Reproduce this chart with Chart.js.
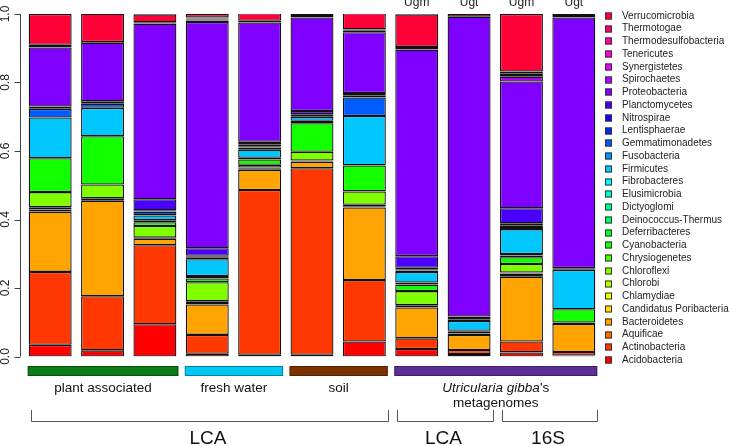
<!DOCTYPE html>
<html>
<head>
<meta charset="utf-8">
<script src="https://cdn.jsdelivr.net/npm/chart.js@4.4.1/dist/chart.umd.min.js"></script>
<style>
  html, body { margin: 0; padding: 0; background: #fff; }
</style>
</head>
<body>
<canvas id="chart" width="732" height="446"></canvas>
<script>
// bars, left to right (only the Utricularia ones carry a label on top)
const categories = ["", "", "", "", "", "", "", "Ugm", "Ugt", "Ugm", "Ugt"];

// phyla, bottom of the stack first
const phyla = [
  "Acidobacteria", "Actinobacteria", "Aquificae", "Bacteroidetes", "Candidatus Poribacteria",
  "Chlamydiae", "Chlorobi", "Chloroflexi", "Chrysiogenetes", "Cyanobacteria",
  "Deferribacteres", "Deinococcus-Thermus", "Dictyoglomi", "Elusimicrobia", "Fibrobacteres",
  "Firmicutes", "Fusobacteria", "Gemmatimonadetes", "Lentisphaerae", "Nitrospirae",
  "Planctomycetes", "Proteobacteria", "Spirochaetes", "Synergistetes", "Tenericutes",
  "Thermodesulfobacteria", "Thermotogae", "Verrucomicrobia"
];
const phylumColors = [
  "#FF0000", "#FF3700", "#FF6D00", "#FFA400", "#FFDB00", "#EDFF00", "#B6FF00", "#80FF00",
  "#49FF00", "#12FF00", "#00FF24", "#00FF5B", "#00FF92", "#00FFC8", "#00FFFF", "#00C8FF",
  "#0092FF", "#005BFF", "#0024FF", "#1200FF", "#4900FF", "#8000FF", "#B600FF", "#ED00FF",
  "#FF00DB", "#FF00A4", "#FF006D", "#FF0037"
];

// relative abundance per bar
const acidobacteria         = [0.034, 0.018, 0.094, 0.008, 0.005, 0.005, 0.044, 0.022, 0.007, 0.012, 0.003];
const actinobacteria        = [0.213, 0.158, 0.231, 0.055, 0.481, 0.545, 0.179, 0.031, 0.012, 0.032, 0.010];
const aquificae             = [0, 0, 0, 0, 0, 0, 0, 0, 0, 0, 0];
const bacteroidetes         = [0.176, 0.279, 0.019, 0.089, 0.059, 0.019, 0.212, 0.090, 0.044, 0.189, 0.082];
const candidatusPoribact    = [0, 0, 0, 0, 0.003, 0, 0, 0, 0, 0.005, 0];
const chlamydiae            = [0.006, 0, 0, 0.004, 0, 0, 0.004, 0, 0, 0.004, 0];
const chlorobi              = [0.007, 0.007, 0.003, 0.005, 0.004, 0.003, 0.004, 0.007, 0, 0.003, 0];
const chloroflexi           = [0.044, 0.040, 0.034, 0.056, 0.008, 0.026, 0.039, 0.041, 0.004, 0.025, 0.004];
const chrysiogenetes        = [0, 0, 0, 0, 0, 0, 0, 0, 0, 0, 0];
const cyanobacteria         = [0.099, 0.141, 0.011, 0.011, 0.015, 0.083, 0.076, 0.019, 0.005, 0.020, 0.039];
const deferribacteres       = [0, 0, 0.006, 0.004, 0.005, 0.004, 0, 0.006, 0.003, 0.005, 0];
const deinococcusThermus    = [0, 0, 0, 0, 0, 0.003, 0, 0, 0, 0, 0];
const dictyoglomi           = [0, 0, 0, 0, 0, 0, 0, 0, 0, 0, 0];
const elusimicrobia         = [0, 0, 0, 0, 0, 0, 0, 0, 0, 0, 0];
const fibrobacteres         = [0, 0, 0, 0.003, 0, 0, 0, 0, 0, 0.004, 0];
const firmicutes            = [0.119, 0.083, 0.014, 0.049, 0.024, 0.012, 0.144, 0.031, 0.029, 0.073, 0.115];
const fusobacteria          = [0, 0, 0, 0, 0, 0, 0, 0, 0, 0, 0];
const gemmatimonadetes      = [0.025, 0.012, 0.011, 0.004, 0.006, 0.007, 0.054, 0.004, 0, 0.006, 0];
const lentisphaerae         = [0, 0, 0, 0.003, 0.004, 0, 0, 0.004, 0, 0.005, 0];
const nitrospirae           = [0, 0, 0.004, 0.003, 0.006, 0, 0.005, 0.004, 0.005, 0.006, 0];
const planctomycetes        = [0.007, 0.007, 0.032, 0.022, 0.007, 0.010, 0.008, 0.034, 0.008, 0.044, 0.005];
const proteobacteria        = [0.172, 0.171, 0.513, 0.661, 0.348, 0.273, 0.178, 0.603, 0.875, 0.370, 0.732];
const spirochaetes          = [0.008, 0, 0, 0.004, 0, 0, 0, 0.008, 0, 0.014, 0];
const synergistetes         = [0, 0, 0, 0, 0, 0, 0, 0, 0, 0.005, 0];
const tenericutes           = [0, 0, 0, 0.003, 0, 0, 0.004, 0, 0, 0.005, 0];
const thermodesulfobacteria = [0, 0, 0, 0.003, 0, 0, 0, 0, 0, 0, 0];
const thermotogae           = [0, 0.002, 0.004, 0.003, 0.005, 0.004, 0.004, 0, 0, 0.005, 0.004];
const verrucomicrobia       = [0.090, 0.083, 0.023, 0.010, 0.022, 0.006, 0.047, 0.095, 0.008, 0.168, 0.006];

const seriesValues = [
  acidobacteria, actinobacteria, aquificae, bacteroidetes, candidatusPoribact,
  chlamydiae, chlorobi, chloroflexi, chrysiogenetes, cyanobacteria,
  deferribacteres, deinococcusThermus, dictyoglomi, elusimicrobia, fibrobacteres,
  firmicutes, fusobacteria, gemmatimonadetes, lentisphaerae, nitrospirae,
  planctomycetes, proteobacteria, spirochaetes, synergistetes, tenericutes,
  thermodesulfobacteria, thermotogae, verrucomicrobia
];

// y axis
const yTicks = [0, 0.2, 0.4, 0.6, 0.8, 1.0];
const yTickLabels = ["0.0", "0.2", "0.4", "0.6", "0.8", "1.0"];

// sample groups under the bars (bar index ranges)
const groupLabels = ["plant associated", "fresh water", "soil", "*Utricularia gibba*'s\nmetagenomes"];
const groupColors = ["#0b7c16", "#00c8f4", "#7c3300", "#5b2e98"];
const groupStart = [0, 3, 5, 7];
const groupEnd = [2, 4, 6, 10];

// method brackets
const bracketLabels = ["LCA", "LCA", "16S"];
const bracketStart = [0, 7, 9];
const bracketEnd = [6, 8, 10];

const FONT = "'Liberation Sans', Arial, Helvetica, sans-serif";

function drawRich(ctx, text, cx, cy, size) {
  // *...* is italic
  const lines = text.split("\n");
  lines.forEach((line, li) => {
    const parts = line.split("*");
    let total = 0;
    parts.forEach((p, k) => {
      ctx.font = (k % 2 ? "italic " : "") + size + "px " + FONT;
      total += ctx.measureText(p).width;
    });
    let x = cx - total / 2;
    parts.forEach((p, k) => {
      ctx.font = (k % 2 ? "italic " : "") + size + "px " + FONT;
      ctx.fillText(p, x, cy + li * 15);
      x += ctx.measureText(p).width;
    });
  });
}

const annotations = {
  id: "annotations",
  afterDraw(chart) {
    const ctx = chart.ctx;
    const xs = chart.scales.x;
    const ys = chart.scales.y;
    const area = chart.chartArea;
    const meta = chart.getDatasetMeta(0);
    const half = meta.data[0].width / 2;
    const barLeft = i => xs.getPixelForValue(i) - half;
    const barRight = i => xs.getPixelForValue(i) + half;

    ctx.save();
    // y axis
    const ax = Math.round(area.left - 4) + 0.5;
    ctx.strokeStyle = "#444";
    ctx.lineWidth = 1;
    ctx.beginPath();
    ctx.moveTo(ax, ys.getPixelForValue(0));
    ctx.lineTo(ax, ys.getPixelForValue(1));
    yTicks.forEach(t => {
      const py = Math.round(ys.getPixelForValue(t)) + 0.5;
      ctx.moveTo(ax, py);
      ctx.lineTo(ax - 6, py);
    });
    ctx.stroke();
    ctx.fillStyle = "#222";
    ctx.font = "12px " + FONT;
    ctx.textAlign = "center";
    ctx.textBaseline = "alphabetic";
    yTicks.forEach((t, k) => {
      ctx.save();
      ctx.translate(9, ys.getPixelForValue(t));
      ctx.rotate(-Math.PI / 2);
      ctx.fillText(yTickLabels[k], 0, 0);
      ctx.restore();
    });

    // labels on top of bars
    ctx.font = "12px " + FONT;
    categories.forEach((c, i) => {
      if (c) ctx.fillText(c, xs.getPixelForValue(i), 6);
    });

    // group strips and names
    groupLabels.forEach((g, k) => {
      const l = barLeft(groupStart[k]) - 1, r = barRight(groupEnd[k]) + 2;
      ctx.fillStyle = groupColors[k];
      ctx.fillRect(l, 366, r - l, 10);
      ctx.strokeStyle = "rgba(0,0,0,0.35)";
      ctx.strokeRect(l + 0.5, 366.5, r - l - 1, 9);
      ctx.fillStyle = "#111";
      ctx.textAlign = "left";
      ctx.textBaseline = "middle";
      drawRich(ctx, g, (l + r) / 2, 388, 13.5);
    });

    // brackets
    ctx.strokeStyle = "#555";
    ctx.lineWidth = 1;
    ctx.textAlign = "center";
    ctx.textBaseline = "middle";
    ctx.fillStyle = "#111";
    bracketLabels.forEach((b, k) => {
      const l = Math.round(barLeft(bracketStart[k]) + 2) + 0.5;
      const r = Math.round(barRight(bracketEnd[k]) + 2) + 0.5;
      ctx.beginPath();
      ctx.moveTo(l, 410);
      ctx.lineTo(l, 421.5);
      ctx.lineTo(r, 421.5);
      ctx.lineTo(r, 410);
      ctx.stroke();
      ctx.font = "19px " + FONT;
      ctx.fillText(b, (l + r) / 2 - 2, 439);
    });

    // legend, top entry = top of stack
    ctx.textAlign = "left";
    ctx.textBaseline = "middle";
    ctx.font = "10px " + FONT;
    const n = chart.data.datasets.length;
    chart.data.datasets.slice().reverse().forEach((ds, k) => {
      const cy = 16 + k * (344 / (n - 1));
      ctx.fillStyle = ds.backgroundColor;
      ctx.fillRect(605, Math.round(cy) - 3.5, 7, 7);
      ctx.strokeStyle = "#333";
      ctx.strokeRect(605.5, Math.round(cy) - 3, 6, 6);
      ctx.fillStyle = "#222";
      ctx.fillText(ds.label, 622, cy);
    });
    ctx.restore();
  }
};

new Chart(document.getElementById("chart"), {
  type: "bar",
  data: {
    labels: categories,
    datasets: phyla.map((p, i) => ({
      label: p,
      data: seriesValues[i],
      backgroundColor: phylumColors[i],
      borderColor: "#111",
      borderWidth: 1.3,
      borderSkipped: false,
      barPercentage: 0.82,
      categoryPercentage: 1
    }))
  },
  options: {
    responsive: false,
    animation: false,
    devicePixelRatio: 1,
    layout: { padding: { left: 24, right: 132, top: 14, bottom: 89.5 } },
    plugins: { legend: { display: false }, tooltip: { enabled: false } },
    scales: {
      x: { stacked: true, display: false },
      y: { stacked: true, display: false, min: 0, max: 1 }
    }
  },
  plugins: [annotations]
});
</script>
</body>
</html>
